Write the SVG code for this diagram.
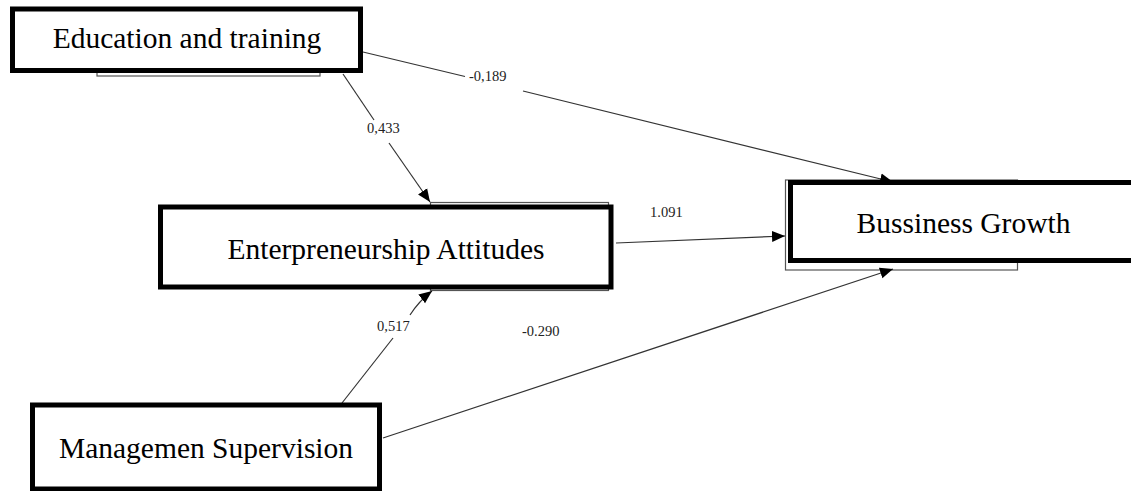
<svg xmlns="http://www.w3.org/2000/svg" width="1131" height="491" viewBox="0 0 1131 491">
  <style>
    .box { fill: #fff; stroke: #000; stroke-width: 5; }
    .shadow { fill: #fff; stroke: #555; stroke-width: 1.2; }
    .lbl { font-family: "Liberation Serif", "Times New Roman", serif; font-size: 29.5px; fill: #000; text-anchor: middle; }
    .num { font-family: "Liberation Serif", "Times New Roman", serif; font-size: 14.5px; fill: #222; }
    .edge { fill: none; stroke: #333; stroke-width: 1.2; }
  </style>
  <defs>
    <marker id="arr" markerUnits="userSpaceOnUse" markerWidth="14" markerHeight="12" refX="13" refY="6" orient="auto">
      <path d="M0,0.5 L13,6 L0,11.5 Z" fill="#000"/>
    </marker>
  </defs>
  <rect width="1131" height="491" fill="#fff"/>

  <g id="shadows">
    <rect class="shadow" x="97" y="20" width="223" height="56"/>
    <rect class="shadow" x="430.5" y="202.5" width="178" height="88"/>
    <rect class="shadow" x="785.5" y="180" width="232" height="90"/>
  </g>

  <g id="connectors">
    <path class="edge" d="M363,52 L465,76.5"/>
    <path class="edge" d="M523,91 L893,182" marker-end="url(#arr)"/>
    <path class="edge" d="M343,74 L374,120"/>
    <path class="edge" d="M389,143 L430,202" marker-end="url(#arr)"/>
    <path class="edge" d="M342,403 L393,338"/>
    <path class="edge" d="M410,315 Q419,301 432,291" marker-end="url(#arr)"/>
    <path class="edge" d="M616,243 L785,236" marker-end="url(#arr)"/>
    <path class="edge" d="M383,438 L893,269" marker-end="url(#arr)"/>
    <text class="num" x="469" y="81">-0,189</text>
    <text class="num" x="367" y="133">0,433</text>
    <text class="num" x="377" y="331">0,517</text>
    <text class="num" x="522" y="336">-0.290</text>
    <text class="num" x="650" y="217">1.091</text>
  </g>

  <g id="node-education">
    <rect class="box" x="12.5" y="9" width="348" height="61.5"/>
    <text class="lbl" x="187" y="48">Education and training</text>
  </g>
  <g id="node-attitudes">
    <rect class="box" x="160.5" y="207" width="450.5" height="80"/>
    <text class="lbl" x="386" y="259">Enterpreneurship Attitudes</text>
  </g>
  <g id="node-growth">
    <rect class="box" x="790.5" y="182.5" width="360" height="78"/>
    <text class="lbl" x="963.5" y="233">Bussiness Growth</text>
  </g>
  <g id="node-supervision">
    <rect class="box" x="32.5" y="405" width="347" height="84"/>
    <text class="lbl" x="206" y="458">Managemen Supervision</text>
  </g>
</svg>
